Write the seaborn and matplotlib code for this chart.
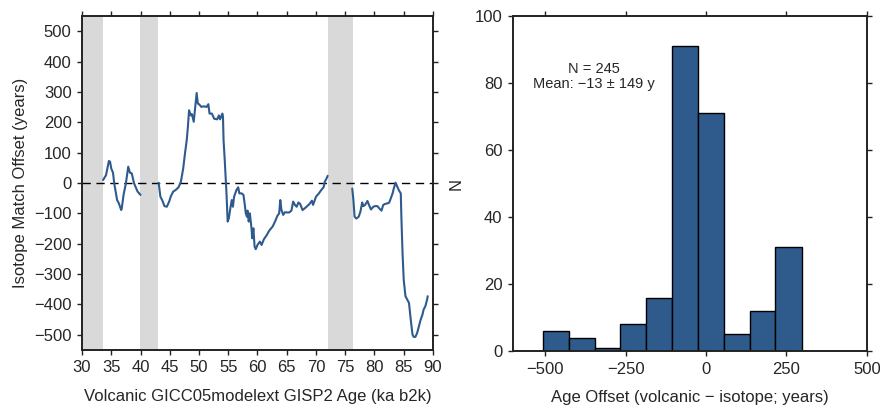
import numpy as np
import pandas as pd
import matplotlib.pyplot as plt
import seaborn as sns

# Left panel: isotope match offset vs. volcanic age (three segments between gaps)
age_seg1 = [33.6, 34.1, 34.6, 34.8, 35.0, 35.3, 35.5, 36.0, 36.3, 36.7, 36.8, 37.1,
            37.5, 37.9, 38.2, 38.5, 38.9, 39.5, 40.0]
off_seg1 = [10, 26, 73, 70, 48, 34, 0, -56, -67, -89, -83, -39,
            -1, 54, 34, 32, -1, -28, -39]

age_seg2 = [43.1, 43.4, 43.7, 44.1, 44.5, 44.9, 45.2, 45.6, 46.0, 46.5, 46.9, 47.3,
            47.6, 47.9, 48.1, 48.3, 48.6, 48.8, 49.1, 49.3, 49.6, 49.8, 50.0, 50.4,
            50.8, 51.3, 51.6, 51.8, 52.2, 52.6, 53.1, 53.4, 53.6, 54.0, 54.1, 54.2,
            54.4, 54.7, 54.9, 55.1, 55.4, 55.6, 55.8, 56.0, 56.4, 56.7, 56.9, 57.3,
            57.6, 57.8, 58.0, 58.2, 58.3, 58.5, 58.7, 59.0, 59.1, 59.3, 59.5, 59.7,
            60.0, 60.4, 60.7, 61.1, 61.6, 62.0, 62.6, 63.0, 63.4, 63.7, 63.9, 64.1,
            64.4, 64.7, 65.1, 65.4, 65.8, 66.1, 66.4, 66.7, 67.0, 67.3, 67.7, 68.1,
            68.5, 68.9, 69.3, 69.5, 69.8, 70.0, 70.5, 70.9, 71.3, 71.5, 71.8, 72.0]
off_seg2 = [1, -45, -56, -76, -78, -61, -43, -28, -23, -14, 4, 48,
            97, 141, 185, 240, 223, 227, 202, 240, 297, 262, 260, 251,
            253, 251, 260, 229, 229, 212, 210, 223, 210, 229, 218, 141,
            76, -34, -127, -116, -78, -56, -78, -45, -23, -14, -34, -34,
            -39, -67, -100, -111, -91, -127, -100, -154, -182, -149, -209, -218,
            -204, -193, -204, -185, -171, -157, -143, -127, -108, -100, -56, -89,
            -105, -96, -97, -97, -91, -61, -72, -78, -64, -69, -89, -83,
            -76, -69, -58, -72, -56, -45, -34, -23, -14, 4, 15, 24]

age_seg3 = [76.2, 76.4, 76.6, 76.9, 77.3, 77.6, 77.9, 78.1, 78.4, 78.8, 79.1, 79.4,
            79.8, 80.1, 80.5, 80.8, 81.2, 81.5, 81.8, 82.2, 82.5, 82.8, 83.1, 83.3,
            83.6, 83.9, 84.2, 84.5, 84.6, 84.8, 85.0, 85.3, 85.6, 85.9, 86.2, 86.5,
            86.7, 87.0, 87.3, 87.6, 87.9, 88.2, 88.4, 88.7, 89.0, 89.1]
off_seg3 = [-18, -56, -111, -117, -111, -94, -64, -76, -72, -59, -74, -87,
            -78, -76, -76, -83, -91, -72, -69, -67, -65, -50, -34, -18,
            1, -12, -25, -34, -111, -231, -319, -373, -384, -395, -450, -499,
            -507, -507, -494, -472, -450, -434, -417, -406, -384, -373]

# gaps with no isotope match (ka b2k)
gap_start = [30.0, 39.9, 72.0]
gap_end = [33.6, 43.0, 76.3]

# Right panel: histogram of age offsets
bin_edges = [-508, -427, -346, -266, -186, -106, -25, 56, 136, 216, 298]
bin_counts = [6, 4, 1, 8, 16, 91, 71, 5, 12, 31]

LINE_BLUE = '#2F5A8E'
BAR_BLUE = '#2F5A8C'
FS = 12

sns.set_theme(style='ticks')
plt.rcParams['font.family'] = ['Liberation Sans', 'DejaVu Sans']
plt.rcParams['axes.linewidth'] = 1.4
plt.rcParams['axes.edgecolor'] = '#222222'

fig = plt.figure(figsize=(8.8, 4.05), dpi=100)
ax1 = fig.add_axes([0.0932, 0.136, 0.3988, 0.824])
ax2 = fig.add_axes([0.583, 0.133, 0.402, 0.827])

# --- left panel ---
line_df = pd.concat([
    pd.DataFrame({'age': age_seg1, 'offset': off_seg1, 'seg': 1}),
    pd.DataFrame({'age': age_seg2, 'offset': off_seg2, 'seg': 2}),
    pd.DataFrame({'age': age_seg3, 'offset': off_seg3, 'seg': 3}),
], ignore_index=True)

for g0, g1 in zip(gap_start, gap_end):
    ax1.axvspan(g0, g1, color='#D9D9D9', lw=0, zorder=0)
ax1.axhline(0, color='black', lw=1, ls=(0, (6, 4)), zorder=1)
sns.lineplot(data=line_df, x='age', y='offset', units='seg', estimator=None,
             color=LINE_BLUE, lw=1.5, ax=ax1, zorder=2)

ax1.set_xlim(30, 90)
ax1.set_ylim(-550, 550)
ax1.set_xticks(np.arange(30, 91, 5))
ax1.set_yticks(np.arange(-500, 501, 100))
ax1.set_yticklabels([f'{v:d}'.replace('-', '\u2212') for v in range(-500, 501, 100)])
ax1.set_xlabel('Volcanic GICC05modelext GISP2 Age (ka b2k)', fontsize=FS, labelpad=9.5)
ax1.set_ylabel('Isotope Match Offset (years)', fontsize=FS, labelpad=4)

# --- right panel ---
centers = [(a + b) / 2 for a, b in zip(bin_edges[:-1], bin_edges[1:])]
sns.histplot(x=centers, weights=bin_counts, bins=bin_edges, ax=ax2,
             color=BAR_BLUE, alpha=1, edgecolor='black', linewidth=1)
ax2.set_xlim(-600, 500)
ax2.set_ylim(0, 100)
ax2.set_xticks([-500, -250, 0, 250, 500])
ax2.set_xticklabels(['\u2212500', '\u2212250', '0', '250', '500'])
ax2.set_yticks(np.arange(0, 101, 20))
ax2.set_xlabel('Age Offset (volcanic \u2212 isotope; years)', fontsize=FS, labelpad=9.5)
ax2.set_ylabel('N', fontsize=FS, labelpad=8)
ax2.text(-350, 82, 'N = 245\nMean: \u221213 \u00b1 149 y', ha='center', va='center',
         multialignment='center', fontsize=10.5, linespacing=1.15)

for ax in (ax1, ax2):
    ax.tick_params(axis='both', which='both', direction='out', length=3.5, width=1,
                   labelsize=FS, top=True, right=True, labeltop=False, labelright=False,
                   color='#222222', pad=4)
    for s in ax.spines.values():
        s.set_visible(True)

fig.savefig('out.png', dpi=100)
